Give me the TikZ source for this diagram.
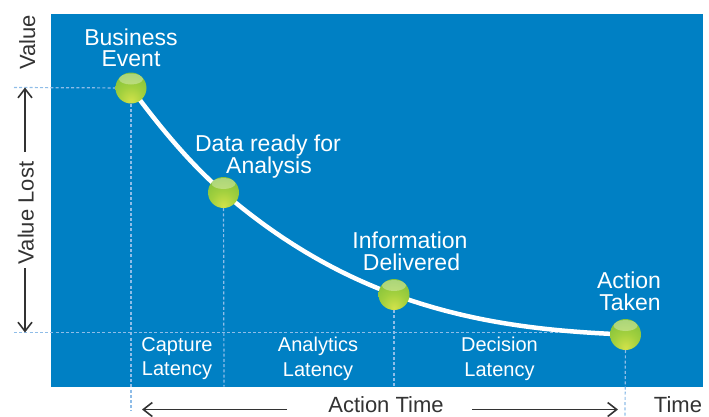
\documentclass[tikz,border=0pt]{standalone}
\usepackage{fontspec}
\setmainfont{Liberation Sans}
\usetikzlibrary{arrows.meta,calc}

\definecolor{panelblue}{HTML}{0080C4}
\definecolor{dashblue}{HTML}{8FBDE8}
\definecolor{axisgray}{HTML}{333333}
\definecolor{ballglow}{HTML}{D2E24A}
\definecolor{ballmid}{HTML}{A2D03E}
\definecolor{ballgreen}{HTML}{78BC3A}
\definecolor{ballrim}{HTML}{4F9A2A}

% glossy green sphere, glowing towards the bottom
\pgfdeclareradialshading{greenball}{\pgfpoint{0bp}{-22bp}}{%
  color(0bp)=(ballglow); color(20bp)=(ballmid); color(46bp)=(ballgreen);
  color(64bp)=(ballrim); color(100bp)=(ballrim)}

\begin{document}
\begin{tikzpicture}[x=1pt,y=-1pt,
  toplabel/.style={text=white, font=\fontsize{23}{23}\selectfont, inner sep=0pt, anchor=base},
  latlabel/.style={text=white, font=\fontsize{20}{20}\selectfont, inner sep=0pt, anchor=base},
  axislabel/.style={text=axisgray, font=\fontsize{22}{22}\selectfont, inner sep=0pt, anchor=base},
  guide/.style={draw=dashblue, line width=1.2pt, dash pattern=on 3pt off 2.2pt},
  decay/.style={draw=white, line width=4.5pt, line cap=round},
  axisarrow/.style={draw=axisgray, line width=1.6pt,
    -{Straight Barb[length=9pt,width=14pt,line width=1.6pt]}},
  ball/.style={circle, minimum size=31pt, inner sep=0pt, shading=greenball,
    path picture={\fill[white, opacity=0.32]
      ($(path picture bounding box.center)+(0,-9)$) ellipse (12 and 5.5);}}
]
\useasboundingbox (0,0) rectangle (709,416);

% chart panel
\fill[panelblue] (51,14) rectangle (703,386.5);

% milestone positions
\coordinate (p1) at (131,88);
\coordinate (p2) at (223.5,192.5);
\coordinate (p3) at (394,294.5);
\coordinate (p4) at (625.5,334.5);

% guide lines
\coordinate (topleft) at (14,87.5);
\coordinate (botleft) at (14,332.5);
\coordinate (botright) at (610,332.5);
\coordinate (g1) at (131,411);
\coordinate (g2) at (224,386.5);
\coordinate (g3) at (394,386.5);
\coordinate (g4) at (625,416);
\draw[guide] (topleft) -- (p1);
\draw[guide] (botleft) -- (botright);
\draw[guide] (p1) -- (g1);
\draw[guide] (p2) -- (g2);
\draw[guide] (p3) -- (g3);
\draw[guide] (p4) -- (g4);

% value decay curve
\draw[decay] (p1) .. controls (161.8,129.9) and (192.7,166) .. (p2)
             .. controls (280.3,241.4) and (337.2,273.5) .. (p3)
             .. controls (471.2,323.1) and (548.3,331.5) .. (p4);

% milestones
\node[ball] (b1) at (p1) {};
\node[ball] (b2) at (p2) {};
\node[ball] (b3) at (p3) {};
\node[ball] (b4) at (p4) {};

% milestone labels
\node[toplabel] (l1a) at (131,45) {Business};
\node[toplabel] (l1b) at (131,66.5) {Event};
\node[toplabel] (l2a) at (268,151.7) {Data ready for};
\node[toplabel] (l2b) at (269,173.3) {Analysis};
\node[toplabel] (l3a) at (410,248.3) {Information};
\node[toplabel] (l3b) at (411.5,270) {Delivered};
\node[toplabel] (l4a) at (629,288.3) {Action};
\node[toplabel] (l4b) at (630,310.7) {Taken};

% latency labels
\node[latlabel] (c1) at (177,351.7) {Capture};
\node[latlabel] (c2) at (177,375.7) {Latency};
\node[latlabel] (a1) at (318,351.7) {Analytics};
\node[latlabel] (a2) at (318,376) {Latency};
\node[latlabel] (d1) at (499.5,351.7) {Decision};
\node[latlabel] (d2) at (499.5,376) {Latency};

% value axis
\node[axislabel, rotate=90] (value) at (35,42.5) {Value};
\node[axislabel, rotate=90] (valuelost) at (33.5,213) {Value Lost};
\coordinate (vupstart) at (25,152);
\coordinate (vuptip) at (25,87.5);
\coordinate (vdownstart) at (25,268);
\coordinate (vdowntip) at (25,332.5);
\draw[axisarrow] (vupstart) -- (vuptip);
\draw[axisarrow] (vdownstart) -- (vdowntip);

% time axis
\node[axislabel] (actiontime) at (386,412.5) {Action Time};
\node[axislabel] (time) at (678,412.5) {Time};
\coordinate (tleftstart) at (287,409.5);
\coordinate (tlefttip) at (142,409.5);
\coordinate (trightstart) at (472,409.5);
\coordinate (trighttip) at (618,409.5);
\draw[axisarrow] (tleftstart) -- (tlefttip);
\draw[axisarrow] (trightstart) -- (trighttip);
\end{tikzpicture}
\end{document}
